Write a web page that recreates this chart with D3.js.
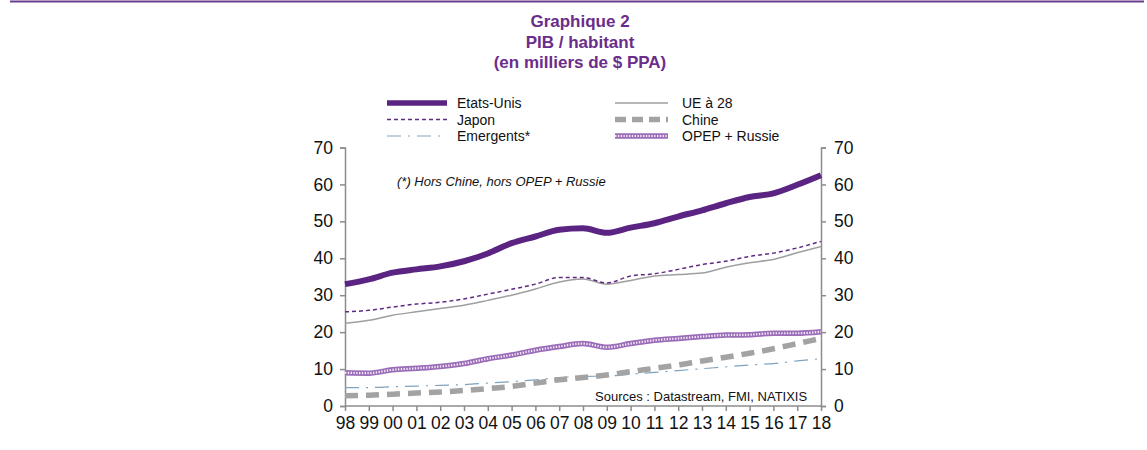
<!DOCTYPE html>
<html><head><meta charset="utf-8">
<script src="https://cdn.jsdelivr.net/npm/d3@7"></script>
<style>body{margin:0;background:#fff;}svg{display:block;font-family:"Liberation Sans",Arial,sans-serif;}</style>
</head><body>
<svg id="c" width="1147" height="450"></svg>
<script>
const years = ["98","99","00","01","02","03","04","05","06","07","08","09","10","11","12","13","14","15","16","17","18"];
const etatsUnis = [33,34.3,36.1,37,37.8,39.2,41.3,44.1,45.9,47.7,48.1,46.9,48.3,49.5,51.3,53.0,54.9,56.6,57.6,59.9,62.5];
const ue28 = [22.4,23.2,24.6,25.5,26.4,27.3,28.6,30.0,31.7,33.6,34.4,33.0,34.0,35.2,35.6,36.0,37.6,38.8,39.7,41.5,43.2];
const japon = [25.5,25.9,26.8,27.6,28.1,29.0,30.3,31.6,33.0,34.8,34.8,33.3,35.2,35.8,37.0,38.3,39.2,40.5,41.4,42.8,44.6];
const chine = [2.8,2.9,3.2,3.5,3.8,4.2,4.7,5.3,6.2,7.1,7.7,8.4,9.3,10.2,11.1,12.2,13.2,14.3,15.5,16.9,18.3];
const emergents = [5.0,5.0,5.2,5.4,5.6,5.8,6.2,6.6,7.1,7.7,8.0,8.1,8.6,9.1,9.6,10.1,10.6,11.1,11.5,12.2,12.8];
const opepRussie = [9.0,8.9,9.8,10.2,10.7,11.5,12.8,13.8,15.1,16.1,16.9,15.9,16.9,17.8,18.3,18.8,19.2,19.3,19.7,19.7,20.1];
const yTicks = [0,10,20,30,40,50,60,70];
const titleLines = ["Graphique 2","PIB / habitant","(en milliers de $ PPA)"];

(function(){
const svg = d3.select("#c");
const pl = 345, pr = 821, pt = 147.5, pb = 406;
const x = d3.scalePoint().domain(years).range([pl, pr]);
const y = d3.scaleLinear().domain([0,70]).range([pb, pt]);

svg.append("line").attr("x1",10).attr("x2",1144).attr("y1",1.5).attr("y2",1.5)
  .attr("stroke","#6a3d8f").attr("stroke-width",2);

titleLines.forEach((t,i)=>{
  svg.append("text").attr("x",580).attr("y",27+i*20.5).attr("text-anchor","middle")
    .attr("font-size",17).attr("font-weight","bold").attr("fill","#6b2d8b").text(t);
});

const axisColor = "#8c8c8c";
const gL = svg.append("g").attr("transform",`translate(${pl},0)`)
  .call(d3.axisLeft(y).tickValues(yTicks).tickSize(5).tickPadding(7).tickFormat(d3.format("d")));
const gR = svg.append("g").attr("transform",`translate(${pr},0)`)
  .call(d3.axisRight(y).tickValues(yTicks).tickSize(5).tickPadding(8).tickFormat(d3.format("d")));
const gX = svg.append("g").attr("transform",`translate(0,${pb})`)
  .call(d3.axisBottom(x).tickSize(5).tickPadding(6));
[gL,gR,gX].forEach(g=>{
  g.select(".domain").attr("stroke",axisColor).attr("stroke-width",1.5);
  g.selectAll(".tick line").attr("stroke",axisColor).attr("stroke-width",1.5);
  g.selectAll(".tick text").attr("font-size",17.5).attr("fill","#111").attr("font-family","Liberation Sans, Arial, sans-serif");
});
gX.select(".domain").attr("d",`M${pl},0H${pr}`);

const line = d3.line().x((d,i)=>x(years[i])).y(d=>y(d)).curve(d3.curveMonotoneX);

const series = [
  {name:"Emergents*", data:emergents, stroke:"#7fa3bd", width:1.2, dash:"14,7,2,7"},
  {name:"Chine", data:chine, stroke:"#a3a3a3", width:5.5, dash:"13,8"},
  {name:"OPEP + Russie", data:opepRussie, stroke:"#9b6cb8", width:5.5, dash:null, pattern:true},
  {name:"UE à 28", data:ue28, stroke:"#9f9f9f", width:1.5, dash:null},
  {name:"Japon", data:japon, stroke:"#5e2a84", width:1.5, dash:"4,3"},
  {name:"Etats-Unis", data:etatsUnis, stroke:"#5b2382", width:6, dash:null}
];
const plotG = svg.append("g");
series.forEach(s=>{
  const p = plotG.append("path").attr("d",line(s.data)).attr("fill","none")
    .attr("stroke",s.stroke).attr("stroke-width",s.width);
  if(s.dash) p.attr("stroke-dasharray",s.dash);
  if(s.pattern){
    plotG.append("path").attr("d",line(s.data)).attr("fill","none")
      .attr("stroke","#fff").attr("stroke-width",2.2).attr("stroke-dasharray","1.4,1.4").attr("opacity",0.85);
  }
});

const legend = [
  {name:"Etats-Unis", col:0, row:0}, {name:"UE à 28", col:1, row:0},
  {name:"Japon", col:0, row:1}, {name:"Chine", col:1, row:1},
  {name:"Emergents*", col:0, row:2}, {name:"OPEP + Russie", col:1, row:2}
];
const colX = [[387,447,457],[615,668,682]];
legend.forEach(l=>{
  const s = series.find(d=>d.name===l.name);
  const yy = 103 + l.row*16.5;
  const [x1,x2,tx] = colX[l.col];
  const p = svg.append("line").attr("x1",x1).attr("x2",x2).attr("y1",yy).attr("y2",yy)
    .attr("stroke",s.stroke).attr("stroke-width",Math.min(s.width,5.5));
  if(s.dash) p.attr("stroke-dasharray",s.name==="Chine"?"11,6":s.dash);
  if(s.pattern){
    svg.append("line").attr("x1",x1).attr("x2",x2).attr("y1",yy).attr("y2",yy)
      .attr("stroke","#fff").attr("stroke-width",2).attr("stroke-dasharray","1.4,1.4").attr("opacity",0.85);
  }
  svg.append("text").attr("x",tx).attr("y",yy+5).attr("font-size",14).attr("fill","#111").text(l.name);
});

svg.append("text").attr("x",397).attr("y",186).attr("font-size",13).attr("font-style","italic")
  .attr("fill","#111").text("(*) Hors Chine, hors OPEP + Russie");
svg.append("text").attr("x",595).attr("y",401).attr("font-size",13)
  .attr("fill","#111").text("Sources  : Datastream,  FMI, NATIXIS");
})();
</script>
</body></html>
